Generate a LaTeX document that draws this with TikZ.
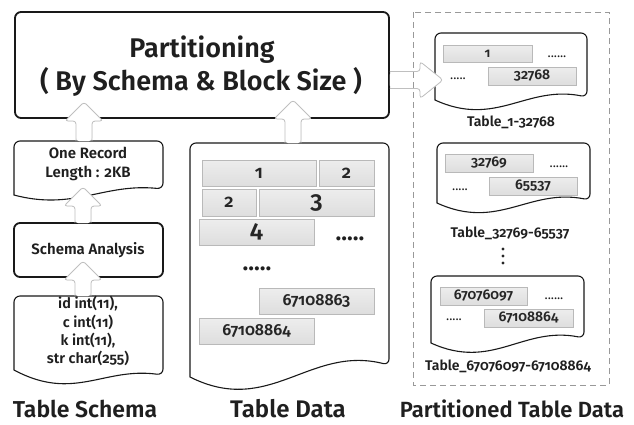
\documentclass[tikz,border=0pt]{standalone}
\usepackage{fontspec}
\setmainfont{Fira Sans}[Numbers=OldStyle, BoldFont={Fira Sans SemiBold}]
\usetikzlibrary{calc}
\newcommand\fsz[1]{\fontsize{#1}{#1}\selectfont\bfseries}
\newcommand\docpath[7]{%
  \draw[docline] (#1,#4) [rounded corners=6pt] -- (#1,#2) -- (#3,#2) -- (#3,#5) [sharp corners]
    .. controls ({#3-0.4*(#3-#1)},{#5-#6}) and ({#1+0.4*(#3-#1)},{#4+#7}) .. (#1,#4) -- cycle;}
\newcommand\blockup[2]{%
  \fill[arrshadow] let \p1=(#1),\p2=(#2) in ({\x1-8pt},\y1) -- ({\x1-8pt},{\y2-19pt}) -- ({\x1-19pt},{\y2-19pt}) -- (\x1,\y2) -- ({\x1+19pt},{\y2-19pt}) -- ({\x1+8pt},{\y2-19pt}) -- ({\x1+8pt},\y1) -- cycle;
  \fill[arrfill] let \p1=(#1),\p2=(#2) in ({\x1-8pt},\y1) -- ({\x1-8pt},{\y2-19pt}) -- ({\x1-19pt},{\y2-19pt}) -- (\x1,\y2) -- ({\x1+19pt},{\y2-19pt}) -- ({\x1+8pt},{\y2-19pt}) -- ({\x1+8pt},\y1) -- cycle;
  \draw[arrline] let \p1=(#1),\p2=(#2) in ({\x1-8pt},\y1) -- ({\x1-8pt},{\y2-19pt}) -- ({\x1-19pt},{\y2-19pt}) -- (\x1,\y2) -- ({\x1+19pt},{\y2-19pt}) -- ({\x1+8pt},{\y2-19pt}) -- ({\x1+8pt},\y1);}
\newcommand\blockright[2]{%
  \fill[arrshadow] let \p1=(#1),\p2=(#2) in (\x1,{\y1+8.5pt}) -- ({\x2-23pt},{\y1+8.5pt}) -- ({\x2-23pt},{\y1+18.5pt}) -- (\x2,\y2) -- ({\x2-23pt},{\y1-18.5pt}) -- ({\x2-23pt},{\y1-8.5pt}) -- (\x1,{\y1-8.5pt}) -- cycle;
  \fill[arrfill] let \p1=(#1),\p2=(#2) in (\x1,{\y1+8.5pt}) -- ({\x2-23pt},{\y1+8.5pt}) -- ({\x2-23pt},{\y1+18.5pt}) -- (\x2,\y2) -- ({\x2-23pt},{\y1-18.5pt}) -- ({\x2-23pt},{\y1-8.5pt}) -- (\x1,{\y1-8.5pt}) -- cycle;
  \draw[arrline] let \p1=(#1),\p2=(#2) in (\x1,{\y1+8.5pt}) -- ({\x2-23pt},{\y1+8.5pt}) -- ({\x2-23pt},{\y1+18.5pt}) -- (\x2,\y2) -- ({\x2-23pt},{\y1-18.5pt}) -- ({\x2-23pt},{\y1-8.5pt}) -- (\x1,{\y1-8.5pt});}
\tikzset{
  docline/.style={draw=black!90, line width=1.1pt, fill=white},
  bigbox/.style={draw=black!90, line width=1.8pt, rounded corners=6pt, fill=white, inner sep=0pt},
  cell/.style={draw=gray!55, line width=0.6pt, top color=gray!14, bottom color=gray!26, inner sep=0pt, text=black!85},
  txt/.style={inner sep=0pt, text=black!88, anchor=base},
  vdot/.style={circle, fill=black!85, inner sep=0pt, minimum size=3.2pt},
  arrshadow/.style={fill=gray!70, shift={(1.3pt,-1.3pt)}, rounded corners=3pt},
  arrfill/.style={fill=white, rounded corners=3pt},
  arrline/.style={draw=gray!50, line width=0.8pt, rounded corners=3pt},
  dashbox/.style={draw=gray!80, line width=0.8pt, dash pattern=on 6pt off 4pt},
}
\begin{document}
\begin{tikzpicture}[x=1pt,y=-1pt]
\useasboundingbox (0,0) rectangle (634,424);
% ---- main partition box
\node[bigbox, minimum width=374, minimum height=106] (part) at (202,65) {};
\node[txt, font=\fsz{27}] (t1) at (202,57) {Partitioning};
\node[txt, font=\fsz{27}] (t2) at (201,90) {( By Schema \& Block Size )};
% ---- left column
\docpath{14}{141}{163}{195}{189}{6}{16}
\node[txt, font=\fsz{15}] (or1) at (88,158) {One Record};
\node[txt, font=\fsz{15}] (or2) at (88,177) {Length : 2KB};
\node[bigbox, minimum width=149, minimum height=54] (sa) at (88.5,250) {};
\node[txt, font=\fsz{15}] (sat) at (88,254) {Schema Analysis};
\docpath{14}{296}{163}{370}{375}{8}{32}
\node[txt, font=\fsz{14.5}] (s1) at (88,308) {id int(11),};
\node[txt, font=\fsz{14.5}] (s2) at (88,327) {c int(11)};
\node[txt, font=\fsz{14.5}] (s3) at (88,345) {k int(11),};
\node[txt, font=\fsz{14.5}] (s4) at (88,363) {str char(255)};
\node[txt, font=\fsz{23}] (lts) at (85,417) {Table Schema};
% ---- table data
\docpath{190}{143}{389}{377}{365}{20}{40}
\node[cell, minimum width=114, minimum height=26, font=\fsz{18}] (c1) at (259,173) {1};
\node[cell, minimum width=55, minimum height=26, font=\fsz{18}] (c2) at (346.5,173) {2};
\node[cell, minimum width=54, minimum height=27, font=\fsz{18}] (c3) at (229,202.5) {2};
\node[cell, minimum width=115, minimum height=27, font=\fsz{24}] (c4) at (316.5,202.5) {3};
\node[cell, minimum width=115, minimum height=26, font=\fsz{24}] (c5) at (256.5,232) {4};
\node[txt, font=\fsz{24}] (d1) at (350,240) {.....};
\node[txt, font=\fsz{24}] (d2) at (257,270) {.....};
\node[cell, minimum width=115, minimum height=26, font=\fsz{16}] (c6) at (316.5,301) {67108863};
\node[cell, minimum width=115, minimum height=26, font=\fsz{16}] (c7) at (256.5,331) {67108864};
\node[txt, font=\fsz{24}] (ltd) at (288,417) {Table Data};
% ---- partitioned data
\docpath{435}{33}{587}{100}{97}{12}{28}
\node[cell, minimum width=89, minimum height=17, font=\fsz{13}] (p1a) at (487.5,53.5) {1};
\node[cell, minimum width=88, minimum height=18, font=\fsz{14}] (p1b) at (532,76) {32768};
\node[txt, font=\fontsize{13}{13}\selectfont] (p1d1) at (557,57) {......};
\node[txt, font=\fontsize{13}{13}\selectfont] (p1d2) at (458,79) {.....};
\node[txt, font=\fsz{14}] (l1) at (511,126) {Table\_1-32768};
\docpath{437}{143}{590}{203}{200}{12}{28}
\node[cell, minimum width=88, minimum height=18, font=\fsz{14}] (p2a) at (489,163) {32769};
\node[cell, minimum width=88, minimum height=18, font=\fsz{14}] (p2b) at (533,186) {65537};
\node[txt, font=\fontsize{13}{13}\selectfont] (p2d1) at (559,167) {......};
\node[txt, font=\fontsize{13}{13}\selectfont] (p2d2) at (460,190) {.....};
\node[txt, font=\fsz{14}] (l2) at (510,237) {Table\_32769-65537};
\node[vdot] (vd1) at (503,249) {};
\node[vdot] (vd2) at (503,256) {};
\node[vdot] (vd3) at (503,263) {};
\docpath{431}{276}{584}{343}{338}{12}{28}
\node[cell, minimum width=87, minimum height=18, font=\fsz{14}] (p3a) at (483.5,296) {67076097};
\node[cell, minimum width=89, minimum height=18, font=\fsz{14}] (p3b) at (528.5,318) {67108864};
\node[txt, font=\fontsize{13}{13}\selectfont] (p3d1) at (554,299) {......};
\node[txt, font=\fontsize{13}{13}\selectfont] (p3d2) at (454,320) {.....};
\node[txt, font=\fsz{14}] (l3) at (508,370) {Table\_67076097-67108864};
\node[txt, font=\fsz{22}] (lpt) at (512,417) {Partitioned Table Data};
% ---- block arrows
\coordinate (a1s) at (84,141);  \coordinate (a1t) at (84,102);
\coordinate (a2s) at (83,223);  \coordinate (a2t) at (83,187);
\coordinate (a3s) at (83,296);  \coordinate (a3t) at (83,261);
\coordinate (a4s) at (293,143); \coordinate (a4t) at (293,100);
\coordinate (a5s) at (part.east |- 0,80); \coordinate (a5t) at (443,80);
\blockup{a1s}{a1t}
\blockup{a2s}{a2t}
\blockup{a3s}{a3t}
\blockup{a4s}{a4t}
\blockright{a5s}{a5t}
% ---- dashed frame
\draw[dashbox] (413,12) rectangle (609,385);
\end{tikzpicture}
\end{document}
